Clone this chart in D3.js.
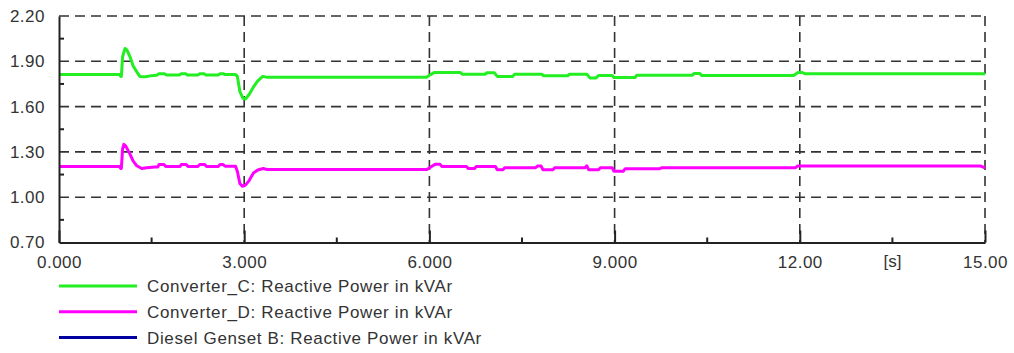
<!DOCTYPE html>
<html><head><meta charset="utf-8">
<script src="https://cdn.jsdelivr.net/npm/d3@7"></script>
<style>
html,body{margin:0;padding:0;background:#fff;}
svg{display:block;}
text{font-family:"Liberation Sans",Arial,sans-serif;font-size:17px;fill:#333;}
</style></head>
<body><svg id="c" width="1014" height="353"></svg>
<script>
// ---- data ----
const xTicks = [0, 3, 6, 9, 12, 15];
const xTickLabels = ["0.000", "3.000", "6.000", "9.000", "12.00", "15.00"];
const xMinor = [1.5, 4.5, 7.5, 10.5, 13.5];
const xUnit = "[s]";
const yTicks = [0.7, 1.0, 1.3, 1.6, 1.9, 2.2];
const yTickLabels = ["0.70", "1.00", "1.30", "1.60", "1.90", "2.20"];
const yMinor = [0.85, 1.15, 1.45, 1.75, 2.05];

const seriesNames = ["Converter_C: Reactive Power in kVAr", "Converter_D: Reactive Power in kVAr", "Diesel Genset B: Reactive Power in kVAr"];
const seriesColors = ["#22ee22", "#ff00ff", "#0000a0"];

const convCTime = [0,0.98,1.0,1.01,1.03,1.07,1.10,1.15,1.20,1.26,1.31,1.40,1.50,1.58,1.62,1.70,1.74,1.95,1.98,2.05,2.08,2.25,2.28,2.35,2.38,2.58,2.61,2.66,2.69,2.86,2.89,2.93,2.98,3.02,3.08,3.15,3.22,3.30,3.36,5.95,6.02,6.08,6.50,6.53,6.90,6.94,7.05,7.10,7.35,7.38,7.82,7.85,8.24,8.27,8.55,8.60,8.70,8.74,8.96,8.99,9.33,9.36,10.26,10.29,10.38,10.41,11.90,11.97,12.04,12.08,14.98,15.0];
const convCValue = [1.812,1.812,1.800,1.80,1.93,1.985,1.975,1.93,1.87,1.83,1.80,1.798,1.805,1.808,1.818,1.818,1.810,1.810,1.818,1.818,1.810,1.810,1.818,1.818,1.810,1.810,1.818,1.818,1.812,1.812,1.80,1.70,1.655,1.650,1.68,1.73,1.77,1.80,1.795,1.794,1.812,1.826,1.826,1.815,1.815,1.825,1.825,1.800,1.800,1.815,1.815,1.804,1.804,1.815,1.815,1.790,1.790,1.806,1.806,1.792,1.792,1.808,1.808,1.820,1.820,1.806,1.806,1.826,1.826,1.818,1.818,1.812];

const convDTime = [0,0.98,1.0,1.01,1.03,1.05,1.08,1.15,1.20,1.26,1.34,1.42,1.55,1.60,1.62,1.70,1.73,1.96,1.98,2.06,2.09,2.25,2.28,2.36,2.39,2.58,2.61,2.66,2.69,2.86,2.89,2.93,2.97,3.02,3.08,3.15,3.22,3.31,3.36,5.96,6.04,6.10,6.17,6.20,6.60,6.63,6.73,6.76,7.07,7.10,7.19,7.22,7.72,7.75,7.81,7.84,8.00,8.03,8.52,8.55,8.58,8.74,8.77,8.96,8.99,9.14,9.17,9.73,9.76,11.93,11.96,14.93,15.0];
const convDValue = [1.203,1.203,1.190,1.19,1.32,1.35,1.34,1.285,1.24,1.208,1.19,1.195,1.200,1.200,1.216,1.216,1.203,1.203,1.216,1.216,1.203,1.203,1.216,1.216,1.203,1.203,1.216,1.216,1.205,1.205,1.17,1.09,1.072,1.08,1.11,1.16,1.18,1.19,1.184,1.184,1.205,1.219,1.219,1.204,1.204,1.19,1.19,1.204,1.204,1.182,1.182,1.195,1.195,1.206,1.206,1.182,1.182,1.195,1.195,1.208,1.182,1.182,1.195,1.195,1.172,1.172,1.188,1.188,1.195,1.195,1.206,1.206,1.195];

const dieselTime = [];
const dieselValue = [];

// ---- layout ----
const L = 59, R = 985, T = 16, B = 242.5;
const svg = d3.select("#c");
const x = d3.scaleLinear().domain([0, 15]).range([L, R]);
const y = d3.scaleLinear().domain([0.7, 2.2]).range([B, T]);

// grid
const grid = svg.append("g").attr("stroke", "#333").attr("stroke-width", 1.6).attr("stroke-dasharray", "10,6").attr("fill", "none");
grid.selectAll("line.h").data(yTicks.filter(v => v > 0.7)).join("line")
  .attr("x1", L).attr("x2", R).attr("y1", d => y(d)).attr("y2", d => y(d));
grid.selectAll("line.v").data(xTicks.filter(v => v > 0)).join("line")
  .attr("y1", T).attr("y2", B).attr("x1", d => x(d)).attr("x2", d => x(d));

// series
const line = d3.line().x(d => x(d[0])).y(d => y(d[1]));
const series = [
  d3.zip(convCTime, convCValue),
  d3.zip(convDTime, convDValue),
  d3.zip(dieselTime, dieselValue)
];
series.forEach((s, i) => {
  if (s.length) svg.append("path").attr("d", line(s)).attr("fill", "none")
    .attr("stroke", seriesColors[i]).attr("stroke-width", 3).attr("stroke-linejoin", "round");
});

// axes
const xAxis = d3.axisBottom(x).tickValues(xTicks).tickFormat((d, i) => xTickLabels[i])
  .tickSizeInner(-12).tickSizeOuter(0).tickPadding(13);
const gx = svg.append("g").attr("transform", `translate(0,${B})`).call(xAxis);
const yAxis = d3.axisLeft(y).tickValues(yTicks).tickFormat((d, i) => yTickLabels[i])
  .tickSizeInner(0).tickSizeOuter(0).tickPadding(14);
const gy = svg.append("g").attr("transform", `translate(${L},0)`).call(yAxis);
[gx, gy].forEach(g => {
  g.select(".domain").attr("stroke", "#222").attr("stroke-width", 2);
  g.selectAll(".tick line").attr("stroke", "#222").attr("stroke-width", 2);
  g.selectAll("text").attr("font-size", 17).attr("fill", "#333").attr("font-family", null)
    .attr("letter-spacing", "0.5px");
});
svg.append("g").selectAll("line").data(xMinor).join("line")
  .attr("x1", d => x(d)).attr("x2", d => x(d)).attr("y1", B).attr("y2", B - 5)
  .attr("stroke", "#222").attr("stroke-width", 2);
svg.append("g").selectAll("line").data(yMinor).join("line")
  .attr("x1", L).attr("x2", L + 5).attr("y1", d => y(d)).attr("y2", d => y(d))
  .attr("stroke", "#222").attr("stroke-width", 2);
svg.append("text").attr("x", x(13.5)).attr("y", B + 24.5).attr("text-anchor", "middle").text(xUnit);

// legend
const leg = svg.append("g");
seriesNames.forEach((n, i) => {
  const yy = 286 + i * 25.8;
  leg.append("line").attr("x1", 59).attr("x2", 137).attr("y1", yy).attr("y2", yy)
    .attr("stroke", seriesColors[i]).attr("stroke-width", 3);
  leg.append("text").attr("x", 147).attr("y", yy).attr("dy", "0.35em").attr("font-size", 18)
    .attr("letter-spacing", "0.65px").text(n);
});
</script></body></html>
